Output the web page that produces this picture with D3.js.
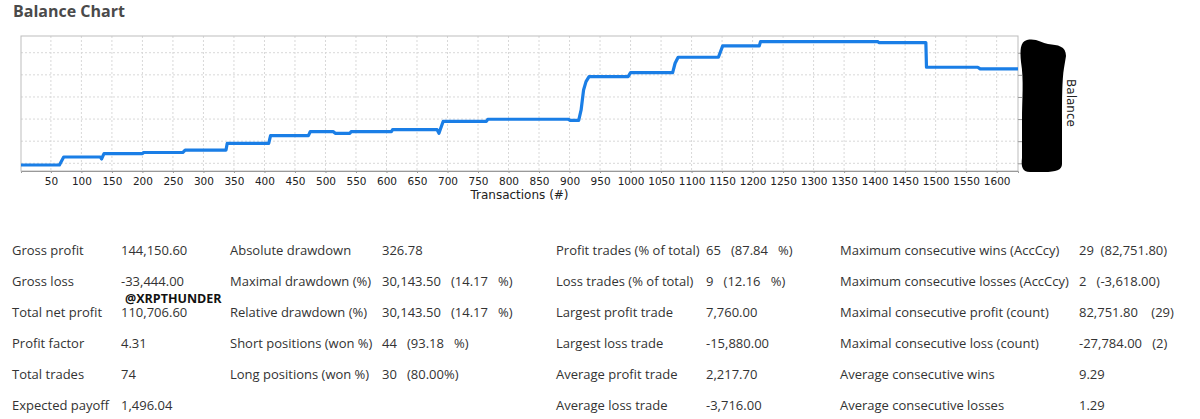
<!DOCTYPE html>
<html>
<head>
<meta charset="utf-8">
<script src="https://cdn.jsdelivr.net/npm/d3@7"></script>
<style>
  body { margin: 0; background: #fff; }
  svg text { white-space: pre; }
</style>
</head>
<body>
<svg id="chart" width="1200" height="419"></svg>
<script>
// balance curve (trade #, balance)
const tradeNo = [1, 64, 71, 131, 133, 137, 200, 202, 266, 270, 337, 339, 407, 410, 472, 475, 513, 516, 540, 542, 608, 610, 683, 686, 693, 764, 766, 898, 901, 915, 919, 923, 927, 932, 996, 1000, 1069, 1073, 1078, 1144, 1151, 1211, 1213, 1405, 1407, 1484, 1485, 1569, 1573, 1635];
const balance = [73100, 73100, 82100, 82100, 79900, 85900, 85900, 87200, 87200, 90000, 90000, 97600, 97600, 106200, 106200, 110700, 110700, 108900, 108900, 110700, 110700, 113000, 113000, 108900, 122500, 122500, 124800, 124800, 123600, 123600, 135300, 157900, 167300, 173000, 173000, 177500, 177500, 188100, 194900, 194900, 207700, 207700, 212600, 212600, 211400, 211400, 183600, 183600, 181700, 181700];

const xTicks = d3.range(50, 1601, 50);
const yTicks = [75000, 100000, 125000, 150000, 175000, 200000];

// report table, four label/value columns
const col1Labels = ['Gross profit', 'Gross loss', 'Total net profit', 'Profit factor', 'Total trades', 'Expected payoff'];
const col1Values = ['144,150.60', '-33,444.00', '110,706.60', '4.31', '74', '1,496.04'];
const col2Labels = ['Absolute drawdown', 'Maximal drawdown (%)', 'Relative drawdown (%)', 'Short positions (won %)', 'Long positions (won %)'];
const col2Values = ['326.78', '30,143.50   (14.17   %)', '30,143.50   (14.17   %)', '44   (93.18   %)', '30   (80.00%)'];
const col3Labels = ['Profit trades (% of total)', 'Loss trades (% of total)', 'Largest profit trade', 'Largest loss trade', 'Average profit trade', 'Average loss trade'];
const col3Values = ['65   (87.84   %)', '9   (12.16   %)', '7,760.00', '-15,880.00', '2,217.70', '-3,716.00'];
const col4Labels = ['Maximum consecutive wins (AccCcy)', 'Maximum consecutive losses (AccCcy)', 'Maximal consecutive profit (count)', 'Maximal consecutive loss (count)', 'Average consecutive wins', 'Average consecutive losses'];
const col4Values = ['29  (82,751.80)', '2   (-3,618.00)', '82,751.80    (29)', '-27,784.00   (2)', '9.29', '1.29'];

const svg = d3.select('#chart');

// title
svg.append('text')
  .attr('x', 13).attr('y', 17)
  .style('font-family', '"Open Sans", sans-serif')
  .style('font-size', '16px')
  .style('font-weight', 'bold')
  .style('fill', '#4a4a4a')
  .text('Balance Chart');

const pL = 21, pR = 1018, pT = 36, pB = 171;

const x = d3.scaleLinear().domain([1, 1635]).range([pL, pR]);
const y = d3.scaleLinear().domain([66300, 218900]).range([pB, pT]);

// grid
const grid = svg.append('g').attr('class', 'grid');
grid.selectAll('.vg')
  .data(xTicks)
  .enter()
  .append('line')
  .attr('x1', d => x(d)).attr('x2', d => x(d))
  .attr('y1', pT).attr('y2', pB)
  .style('stroke', '#d8d8d8')
  .style('stroke-dasharray', '2,2');
grid.selectAll('.hg')
  .data(yTicks)
  .enter()
  .append('line')
  .attr('x1', pL).attr('x2', pR)
  .attr('y1', d => y(d)).attr('y2', d => y(d))
  .style('stroke', '#d8d8d8')
  .style('stroke-dasharray', '2,2');

// frame
svg.append('rect')
  .attr('x', pL).attr('y', pT)
  .attr('width', pR - pL).attr('height', pB - pT)
  .style('fill', 'none')
  .style('stroke', '#bdbdbd');

// balance line
const pts = tradeNo.map((t, i) => [t, balance[i]]);
svg.append('path')
  .datum(pts)
  .attr('d', d3.line().x(d => x(d[0])).y(d => y(d[1])))
  .style('fill', 'none')
  .style('stroke', '#1a7ee6')
  .style('stroke-width', 3.2)
  .style('stroke-linejoin', 'round');

// x axis
const xa = svg.append('g')
  .attr('transform', `translate(0,${pB})`)
  .call(d3.axisBottom(x).tickValues(xTicks).tickSize(2).tickPadding(5).tickFormat(d3.format('d')));
xa.select('.domain').style('stroke', '#999');
xa.selectAll('.tick line').style('stroke', '#999');
xa.selectAll('text')
  .style('font-family', '"DejaVu Sans", sans-serif')
  .style('font-size', '10.5px')
  .style('fill', '#222');

svg.append('text')
  .attr('x', (pL + pR) / 2).attr('y', 199)
  .attr('text-anchor', 'middle')
  .style('font-family', '"DejaVu Sans", sans-serif')
  .style('font-size', '12px')
  .style('fill', '#222')
  .text('Transactions (#)');

// y axis on the right (labels sit under the redaction)
const ya = svg.append('g')
  .attr('transform', `translate(${pR},0)`)
  .call(d3.axisRight(y).tickValues(yTicks).tickSize(4).tickPadding(2).tickFormat(d3.format(',')));
ya.select('.domain').remove();
ya.selectAll('.tick line').style('stroke', '#999');
ya.selectAll('text')
  .style('font-family', '"DejaVu Sans", sans-serif')
  .style('font-size', '8px');

svg.append('text')
  .attr('transform', 'translate(1067,103) rotate(90)')
  .attr('text-anchor', 'middle')
  .style('font-family', '"DejaVu Sans", sans-serif')
  .style('font-size', '12px')
  .style('fill', '#222')
  .text('Balance');

// redaction blob over the y labels
svg.append('path')
  .attr('d', 'M1027,40 C1036,38 1042,43 1048,44 C1058,45 1066,46 1066,56 L1064,68 C1062,80 1062,100 1062,120 L1062,164 C1062,170 1056,172 1044,172 L1030,172 C1022,172 1021,166 1022,158 L1022,120 C1022,100 1024,80 1021,62 C1020,50 1020,42 1027,40 Z')
  .style('fill', '#000');

// stats table
const rowY = d => 254.5 + d * 31;
const cols = [
  [col1Labels, col1Values, 12, 121],
  [col2Labels, col2Values, 230, 382],
  [col3Labels, col3Values, 556, 706],
  [col4Labels, col4Values, 840, 1079]
];
cols.forEach(([labels, values, lx, vx]) => {
  const g = svg.append('g')
    .style('font-family', '"Open Sans", sans-serif')
    .style('font-size', '13px')
    .style('fill', '#333');
  g.selectAll('.lab')
    .data(labels)
    .enter()
    .append('text')
    .attr('x', lx).attr('y', (d, i) => rowY(i))
    .text(d => d);
  g.selectAll('.val')
    .data(values)
    .enter()
    .append('text')
    .attr('x', vx).attr('y', (d, i) => rowY(i))
    .text(d => d);
});

// watermark
svg.append('text')
  .attr('x', 125).attr('y', 303)
  .style('font-family', '"Open Sans", sans-serif')
  .style('font-size', '12.5px')
  .style('font-weight', 'bold')
  .style('fill', '#111')
  .text('@XRPTHUNDER');
</script>
</body>
</html>
